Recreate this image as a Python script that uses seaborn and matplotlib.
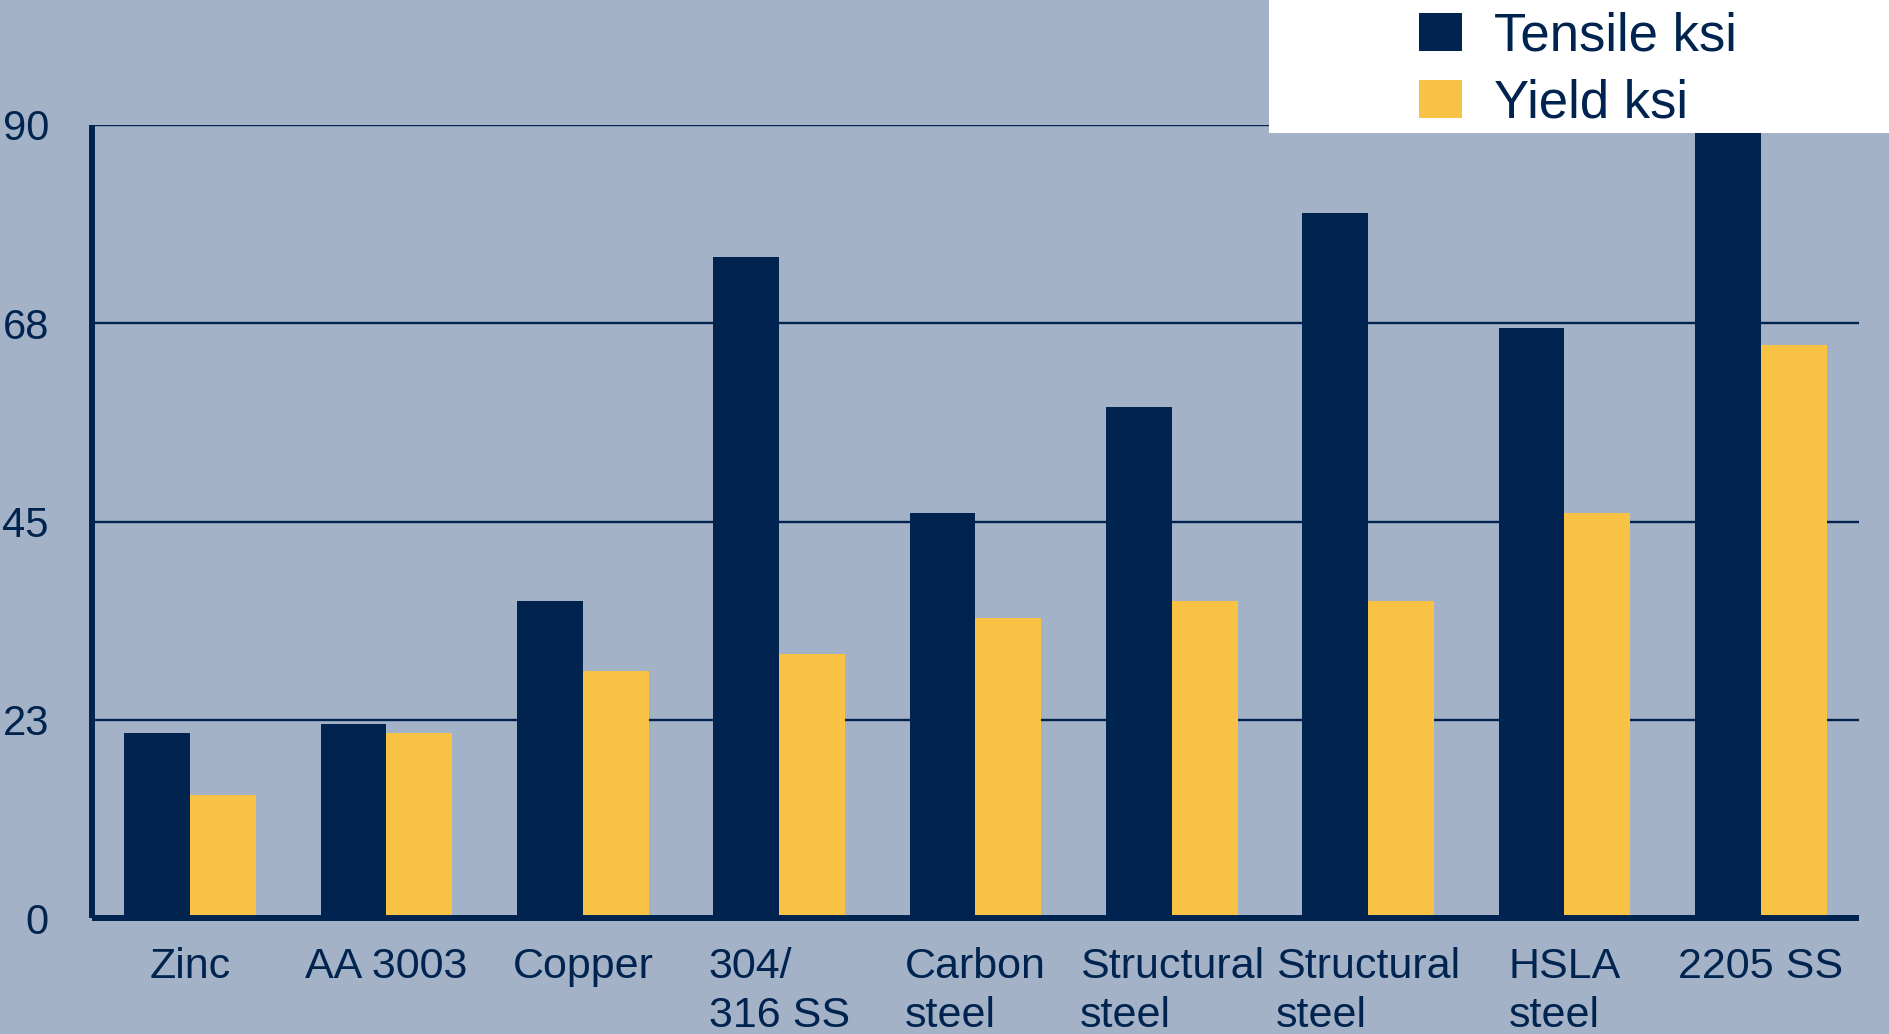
import matplotlib
matplotlib.use("Agg")
import matplotlib.pyplot as plt
import matplotlib.patches as mpatches
import seaborn as sns
import pandas as pd

categories = ["Zinc", "AA 3003", "Copper", "304/\n316 SS", "Carbon\nsteel",
              "Structural\nsteel", "Structural\nsteel", "HSLA\nsteel", "2205 SS"]
tensile = [21, 22, 36, 75, 46, 58, 80, 67, 95]
yield_ = [14, 21, 28, 30, 34, 36, 36, 46, 65]
series = ["Tensile ksi", "Yield ksi"]
yticks = [0, 22.5, 45, 67.5, 90]
yticklabels = ["0", "23", "45", "68", "90"]

NAVY = "#00244F"
YELLOW = "#F8C344"
BG = "#A3B2C6"

sns.set_theme(style="white")
plt.rcParams["font.family"] = ["Liberation Sans", "DejaVu Sans"]

rows = []
for i in range(len(categories)):
    rows.append({"idx": i, "series": series[0], "value": tensile[i]})
    rows.append({"idx": i, "series": series[1], "value": yield_[i]})
df = pd.DataFrame(rows)

fig = plt.figure(figsize=(18.9, 10.34), dpi=100, facecolor=BG)
ax = fig.add_axes([92/1890, 1-918/1034, (1859-92)/1890, (918-125)/1034])
ax.set_facecolor(BG)

sns.barplot(data=df, x="idx", y="value", hue="series", hue_order=series,
            palette={series[0]: NAVY, series[1]: YELLOW}, saturation=1,
            width=0.67, linewidth=0, ax=ax, legend=False, errorbar=None)

ax.set_xlim(-0.5, len(categories) - 0.5)
ax.set_ylim(0, 90)
ax.set_yticks(yticks)
ax.set_yticklabels(yticklabels)
ax.set_xticks(range(len(categories)))
ax.set_xticklabels(categories, multialignment="left", linespacing=1.27)
ax.set_xlabel("")
ax.set_ylabel("")
ax.tick_params(axis="y", length=0, pad=31, labelsize=30, labelcolor=NAVY)
ax.tick_params(axis="x", length=0, pad=21, labelsize=31, labelcolor=NAVY)
ax.set_axisbelow(True)
ax.yaxis.grid(True, color=NAVY, linewidth=1.7)
ax.xaxis.grid(False)
for s in ["top", "right"]:
    ax.spines[s].set_visible(False)
for s in ["left", "bottom"]:
    ax.spines[s].set_color(NAVY)
    ax.spines[s].set_linewidth(4.3)
    ax.spines[s].set_capstyle("butt")

# legend box
rect = mpatches.Rectangle((1269/1890, 1-133/1034), 1-1269/1890, 133/1034,
                          transform=fig.transFigure, facecolor="white",
                          edgecolor="none", zorder=4)
fig.patches.append(rect)
handles = [mpatches.Patch(facecolor=NAVY, edgecolor="none", label=series[0]),
           mpatches.Patch(facecolor=YELLOW, edgecolor="none", label=series[1])]
leg = fig.legend(handles=handles, loc="center left",
                 bbox_to_anchor=(1419/1890, 1-70/1034), frameon=False,
                 fontsize=38, borderpad=0, borderaxespad=0,
                 handlelength=0.81, handleheight=0.72, handletextpad=0.62,
                 labelspacing=0.32, labelcolor=NAVY)
leg.set_zorder(5)

fig.savefig("out.png", dpi=100, facecolor=BG)
